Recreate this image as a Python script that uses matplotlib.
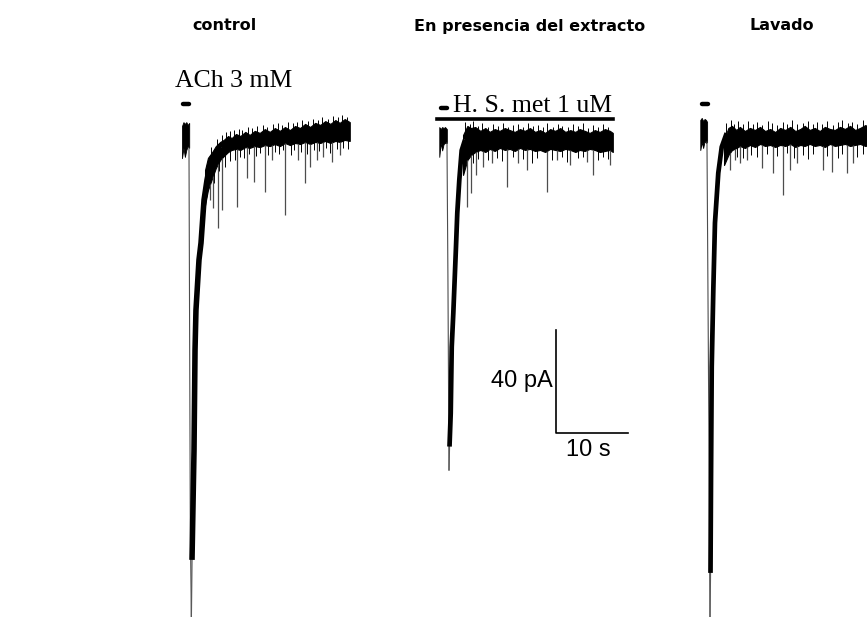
import numpy as np
import matplotlib
matplotlib.use("Agg")
import matplotlib.pyplot as plt

# scale of the recording (pixels per unit on the figure)
PX_PER_S = 7.2
PX_PER_PA = 2.575

titles = ["control", "En presencia del extracto", "Lavado"]
bar_time = 10   # s
bar_current = 40  # pA

# ---- control (ACh 3 mM) ----
ctl_pre_t = [0.0, 0.2, 0.4, 0.6, 0.8, 1.0]
ctl_pre_hi = [3.5, 5.0, 4.3, 5.0, 3.9, 4.7]
ctl_pre_lo = [-9.0, -5.0, -8.5, -5.8, -4.3, -5.0]
ctl_fall_t = [0.97, 1.15, 1.3]
ctl_fall_i = [-5.0, -150.0, -187.2]
ctl_rise_t = [1.3, 1.39, 1.67, 1.81, 1.94, 2.36, 2.64, 3.06, 3.47, 3.89, 4.58, 5.56]
ctl_rise_i = [-187.2, -165.0, -122.3, -83.5, -68.0, -48.5, -41.9, -25.2, -17.5, -11.7, -7.8, -5.0]
ctl_t = [3.2, 3.6, 4.2, 4.7, 5.3, 5.8, 6.4, 6.9, 7.5, 8.1, 8.8, 9.4, 10.1, 10.8, 11.5, 12.2,
         12.9, 13.6, 14.3, 15.0, 15.7, 16.4, 17.1, 17.8, 18.5, 19.2, 19.9, 20.6, 21.3, 21.9, 22.6, 23.3]
ctl_hi = [-13.6, -8.9, -6.6, -4.3, -2.7, -1.9, -0.4, -1.2, 0.4, -0.4, 1.2, 0.0, 1.6, 0.8, 2.3, 1.2,
          2.7, 1.6, 3.1, 1.9, 3.5, 2.7, 4.3, 3.1, 4.7, 3.9, 5.4, 4.3, 5.8, 4.7, 6.2, 5.0]
ctl_lo = [-27.2, -21.4, -16.7, -12.8, -9.7, -8.2, -6.6, -5.8, -5.4, -5.8, -4.7, -5.0, -4.3, -4.7, -3.9, -4.3,
          -3.5, -4.3, -3.1, -3.9, -3.1, -3.5, -2.7, -3.5, -2.7, -3.1, -2.3, -3.1, -2.3, -2.7, -1.9, -2.3]
ctl_spk_t = [3.9, 4.3, 5.0, 5.6, 7.6, 9.0, 10.0, 11.5, 12.5, 14.3, 16.1, 17.1, 17.8, 18.8, 19.6, 20.8, 21.9]
ctl_spk_i = [-25.2, -28.3, -36.1, -29.1, -28.0, -16.7, -18.3, -22.1, -9.7, -31.1, -9.7, -18.6, -12.4,
             -9.7, -8.5, -10.5, -7.8]
ctl_up_t = [4.0, 4.9, 5.5, 6.1, 6.6, 7.2, 7.9, 8.4, 9.1, 9.7, 10.4, 11.2, 11.8, 12.6, 13.3, 13.9, 14.7,
            15.4, 16.0, 16.7, 17.5, 18.2, 18.9, 19.5, 20.3, 21.0, 21.6, 22.2, 22.9]
ctl_up_i = [-4.5, -1.5, 0.0, 1.0, 1.5, 1.8, 2.5, 2.0, 3.0, 2.6, 3.4, 3.8, 3.2, 4.2, 4.5, 3.9, 5.0,
            4.6, 5.2, 5.8, 5.5, 6.3, 6.0, 6.8, 6.4, 7.2, 6.9, 7.6, 7.0]
ctl_dn_t = [4.5, 5.2, 6.0, 6.7, 7.3, 8.0, 8.6, 9.3, 10.3, 10.9, 11.9, 12.9, 13.5, 14.0, 15.1, 15.6,
            16.5, 17.4, 18.3, 19.0, 20.0, 20.5, 21.5, 22.3, 23.0]
ctl_dn_i = [-18.5, -14.0, -12.5, -10.0, -9.8, -8.5, -9.0, -7.5, -8.2, -6.8, -7.9, -6.5, -7.4, -6.0, -7.8,
            -5.9, -6.6, -7.2, -5.8, -6.4, -5.2, -6.9, -5.5, -5.0, -5.6]

# ---- en presencia del extracto (H. S. met 1 uM) ----
ext_pre_t = [-0.1, 0.1, 0.3, 0.5, 0.7, 0.95]
ext_pre_hi = [3.1, 2.3, 3.1, 2.7, 3.1, 2.3]
ext_pre_lo = [-8.5, -3.1, -6.0, -3.5, -3.1, -3.1]
ext_fall_t = [0.97, 1.1, 1.25]
ext_fall_i = [-3.1, -55.0, -130.1]
ext_rise_t = [1.25, 1.32, 1.49, 1.63, 1.85, 2.22, 2.40, 2.68, 3.01, 3.47]
ext_rise_i = [-130.1, -121.0, -108.0, -82.3, -69.1, -43.5, -30.3, -17.5, -6.0, -1.9]
ext_t = [3.2, 3.8, 4.3, 4.9, 5.6, 6.3, 6.9, 7.6, 8.3, 9.0, 9.7, 10.4, 11.1, 11.8, 12.5, 13.2,
         13.9, 14.6, 15.3, 16.0, 16.7, 17.4, 18.1, 18.8, 19.4, 20.1, 20.8, 21.5, 22.2, 22.9, 23.6, 24.0]
ext_hi = [0.0, 3.5, 2.7, 3.1, 1.6, 2.7, 1.2, 2.3, 1.6, 2.7, 1.9, 1.2, 2.3, 1.6, 2.7, 1.2,
          1.9, 0.8, 2.3, 1.6, 2.7, 1.2, 1.9, 1.2, 2.3, 1.6, 0.8, 1.9, 1.2, 2.3, 1.6, 0.8]
ext_lo = [-15.5, -9.7, -7.8, -6.6, -5.8, -6.6, -5.4, -6.2, -5.0, -5.8, -5.4, -6.2, -5.0, -5.8, -5.4, -6.2,
          -5.8, -6.6, -5.4, -5.8, -6.2, -5.4, -5.8, -6.6, -5.8, -6.2, -5.4, -5.8, -6.6, -6.2, -5.8, -6.6]
ext_spk_t = [3.8, 4.3, 5.0, 6.0, 7.2, 9.3, 10.8, 12.1, 14.9, 16.3, 18.1, 20.4, 21.3, 23.6]
ext_spk_i = [-28.0, -22.5, -15.5, -12.4, -10.9, -20.2, -10.9, -13.6, -22.1, -9.7, -11.7, -10.5, -15.5, -11.7]
ext_up_t = [3.5, 4.1, 4.6, 5.3, 5.9, 6.6, 7.3, 8.0, 8.7, 9.4, 10.1, 10.8, 11.5, 12.2, 12.9, 13.6,
            14.3, 14.9, 15.7, 16.4, 17.0, 17.8, 18.5, 19.1, 19.8, 20.5, 21.2, 21.9, 22.6, 23.3]
ext_up_i = [5.0, 4.2, 5.5, 3.4, 4.6, 3.0, 4.1, 3.6, 4.8, 3.2, 3.9, 4.4, 3.1, 4.7, 3.5, 4.0,
            3.3, 4.5, 3.0, 4.3, 3.6, 3.1, 4.2, 3.4, 4.6, 2.9, 3.8, 3.2, 4.1, 3.0]
ext_dn_t = [4.6, 5.3, 6.6, 7.9, 8.6, 10.1, 11.5, 12.8, 13.5, 15.6, 17.0, 17.7, 19.1, 19.8, 21.9, 22.6, 23.3]
ext_dn_i = [-11.0, -9.5, -9.8, -8.9, -10.2, -8.6, -9.4, -10.8, -8.8, -9.6, -8.4, -10.5, -9.1, -8.7,
            -9.9, -8.5, -9.3]
ext_on, ext_off = -0.4, 24.0  # extract application (s)

# ---- lavado ----
lav_pre_t = [-0.1, 0.1, 0.3, 0.5, 0.7, 0.85]
lav_pre_hi = [3.9, 4.7, 3.5, 4.3, 3.9, 3.1]
lav_pre_lo = [-7.8, -4.7, -7.0, -4.3, -5.0, -4.7]
lav_fall_t = [0.83, 1.1, 1.25]
lav_fall_i = [-4.7, -120.0, -189.1]
lav_rise_t = [1.25, 1.32, 1.39, 1.49, 1.71, 1.94, 2.40, 2.88, 3.57]
lav_rise_i = [-189.1, -172.0, -135.9, -92.0, -62.1, -36.1, -16.7, -6.6, -1.2]
lav_t = [3.2, 3.8, 4.3, 4.9, 5.4, 6.1, 6.8, 7.5, 8.2, 8.9, 9.6, 10.3, 11.0, 11.7, 12.4, 13.1,
         13.8, 14.4, 15.1, 15.8, 16.5, 17.2, 17.9, 18.6, 19.3, 20.0, 20.7, 21.4, 22.1, 22.8, 23.5]
lav_hi = [-3.9, 0.8, 1.6, 0.0, 1.2, -0.4, 0.8, 0.0, 1.2, -0.4, 0.4, -0.8, 0.8, 0.0, 1.2, -0.4,
          0.4, 1.6, 0.0, 0.8, -0.4, 1.2, 0.4, 0.0, 1.2, 0.4, 1.6, 0.0, 0.8, 1.9, 1.2]
lav_lo = [-13.6, -9.7, -7.8, -7.0, -6.2, -7.0, -5.8, -6.6, -5.4, -6.2, -5.8, -6.6, -5.8, -6.2, -5.4, -6.6,
          -5.8, -6.2, -5.4, -6.2, -5.8, -6.6, -5.4, -6.2, -5.8, -5.4, -6.2, -5.8, -5.4, -6.2, -5.8]
lav_spk_t = [4.0, 4.7, 5.4, 6.4, 8.5, 10.0, 11.4, 12.4, 13.3, 16.9, 18.2, 20.3, 21.1]
lav_spk_i = [-15.5, -11.7, -12.8, -11.7, -14.8, -16.7, -25.2, -15.5, -12.8, -15.5, -16.3, -16.7, -12.8]
lav_up_t = [3.5, 4.1, 4.6, 5.2, 5.8, 6.5, 7.2, 7.8, 8.5, 9.3, 9.9, 10.6, 11.4, 12.0, 12.7, 13.4,
            14.1, 14.8, 15.5, 16.1, 16.8, 17.5, 18.3, 19.0, 19.6, 20.4, 21.0, 21.7, 22.5, 23.2]
lav_up_i = [2.8, 3.9, 2.5, 3.4, 2.2, 3.6, 2.4, 3.1, 2.0, 3.5, 2.6, 2.1, 3.3, 2.4, 3.8, 2.3,
            2.9, 3.6, 2.2, 3.2, 2.5, 3.4, 2.1, 3.0, 3.7, 2.6, 3.3, 2.4, 3.9, 4.6]
lav_dn_t = [5.0, 5.8, 7.0, 7.8, 9.2, 10.6, 11.9, 12.9, 14.1, 14.8, 15.5, 17.5, 19.0, 19.6, 21.7, 22.5]
lav_dn_i = [-10.5, -11.0, -9.8, -10.6, -9.4, -10.2, -9.0, -10.8, -9.6, -11.2, -9.3, -10.0, -10.9,
            -9.5, -10.4, -9.2]

ach_on, ach_off = 0.1, 0.95  # ACh puff (s)

fig = plt.figure(figsize=(8.67, 6.17), dpi=100)
ax = fig.add_axes([0, 0, 1, 1])
ax.set_xlim(0, 867 / PX_PER_S)
ax.set_ylim(-617 / PX_PER_PA, 0)
ax.axis("off")


def draw_trace(x0, y0, pre, fall, rise, band, spikes, ticks_up, ticks_dn, thick_below, rise_lw):
    ox = x0 / PX_PER_S
    oy = -y0 / PX_PER_PA
    pt, phi, plo = (np.array(a) for a in pre)
    ax.fill_between(pt + ox, phi + oy, plo + oy, color="black", lw=0.6)
    ft, fi = (np.array(a) for a in fall)
    ax.plot(ft + ox, fi + oy, color="0.3", lw=0.8)
    rt, ri = (np.array(a) for a in rise)
    ax.plot(rt + ox, ri + oy, color="0.35", lw=0.9)
    m = ri >= thick_below
    ax.plot(rt[m] + ox, ri[m] + oy, color="black", lw=rise_lw, solid_capstyle="butt")
    bt, bhi, blo = (np.array(a) for a in band)
    ax.fill_between(bt + ox, bhi + oy, blo + oy, color="black", lw=0.8)
    mid = (bhi + blo) / 2
    # small noise excursions on both edges of the band
    for tt, ti in (ticks_up, ticks_dn):
        tt = np.array(tt)
        ax.vlines(tt + ox, np.interp(tt, bt, mid) + oy, np.array(ti) + oy, color="black", lw=0.7)
    st, si = (np.array(a) for a in spikes)
    ax.vlines(st + ox, np.interp(st, bt, blo) + oy, si + oy, color="0.3", lw=0.9)
    return ox, oy


traces = [
    (182, 135, (ctl_pre_t, ctl_pre_hi, ctl_pre_lo), (ctl_fall_t, ctl_fall_i), (ctl_rise_t, ctl_rise_i),
     (ctl_t, ctl_hi, ctl_lo), (ctl_spk_t, ctl_spk_i), (ctl_up_t, ctl_up_i), (ctl_dn_t, ctl_dn_i), -166, 4.0),
    (440, 135, (ext_pre_t, ext_pre_hi, ext_pre_lo), (ext_fall_t, ext_fall_i), (ext_rise_t, ext_rise_i),
     (ext_t, ext_hi, ext_lo), (ext_spk_t, ext_spk_i), (ext_up_t, ext_up_i), (ext_dn_t, ext_dn_i), -122, 3.4),
    (701, 130, (lav_pre_t, lav_pre_hi, lav_pre_lo), (lav_fall_t, lav_fall_i), (lav_rise_t, lav_rise_i),
     (lav_t, lav_hi, lav_lo), (lav_spk_t, lav_spk_i), (lav_up_t, lav_up_i), (lav_dn_t, lav_dn_i), -173, 3.4),
]
puff_y = [104, 108, 104]

for args, py in zip(traces, puff_y):
    ox, oy = draw_trace(*args)
    ax.plot([ach_on + ox, ach_off + ox], [-py / PX_PER_PA] * 2, color="black", lw=3.2,
            solid_capstyle="round")

# extract application bar
ox = 440 / PX_PER_S
ax.plot([ext_on + ox, ext_off + ox], [-119 / PX_PER_PA] * 2, color="black", lw=2.6)

# scale bar
sx, sy = 556 / PX_PER_S, -433 / PX_PER_PA
ax.plot([sx, sx, sx + bar_time], [sy + bar_current, sy, sy], color="black", lw=1.2)
ax.text(sx - 0.5, sy + bar_current / 2, "%d pA" % bar_current, ha="right", va="center",
        family="Liberation Sans", fontsize=17)
ax.text(sx + 1.4, sy - 2.2, "%d s" % bar_time, ha="left", va="top",
        family="Liberation Sans", fontsize=17)

# labels
ax.text(175 / PX_PER_S, -87 / PX_PER_PA, "ACh 3 mM", ha="left", va="baseline",
        family="Liberation Serif", fontsize=18.5)
ax.text(453 / PX_PER_S, -112 / PX_PER_PA, "H. S. met 1 uM", ha="left", va="baseline",
        family="Liberation Serif", fontsize=18.5)

for x, s in zip([225, 530, 782], titles):
    fig.text(x / 867, 1 - 26 / 617, s, ha="center", va="center", fontsize=11.5,
             fontweight="bold", family="DejaVu Sans")

fig.savefig("out.png", dpi=100)
